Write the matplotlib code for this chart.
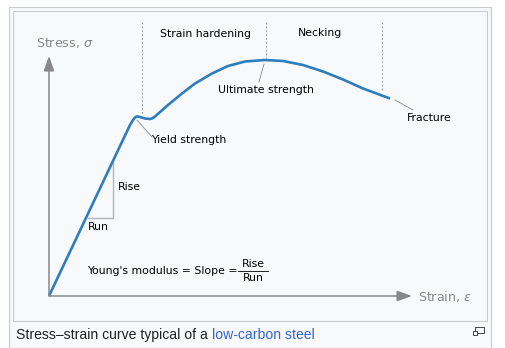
import matplotlib
matplotlib.use('Agg')
import matplotlib.pyplot as plt
from matplotlib.patches import Rectangle

# Stress-strain curve (strain, stress in MPa)
strain = [0.0, 0.081, 0.084, 0.086, 0.0877, 0.089, 0.0927, 0.096, 0.101, 0.103,
          0.106, 0.119, 0.133, 0.146, 0.163, 0.179, 0.196, 0.216, 0.234, 0.254,
          0.274, 0.294, 0.314, 0.341]
stress = [0, 342, 352, 357, 359, 359, 357, 355, 354, 355,
          359, 382, 405, 425, 445, 460, 469, 472, 470, 462,
          449, 433, 415, 395]

# region boundaries (strain) and where the dotted lines stop (stress)
bounds = [0.0927, 0.2167, 0.333]
bound_low = [362, 476, 412]
region_names = ['Strain hardening', 'Necking']

# slope triangle
run_x = [0.039, 0.064]
rise_y = [156, 266]

W, H = 505, 348
BLUE = '#2e7dbf'
GREY = '#888888'


def sx(px):
    return (px - 49) / 1000.0


def sy(py):
    return (296 - py) * 2.0


fig = plt.figure(figsize=(W / 100, H / 100), dpi=100)
fig.patch.set_facecolor('white')

# frames
fig.patches.append(Rectangle((9 / W, 0), 482 / W, 1 - 7 / H, transform=fig.transFigure,
                             facecolor='#f8f9fa', edgecolor='#c8ccd1', lw=0.8, zorder=-2))
fig.patches.append(Rectangle((13 / W, 1 - 321 / H), 474 / W, 310 / H, transform=fig.transFigure,
                             facecolor='#f8f9fa', edgecolor='#c8ccd1', lw=0.8, zorder=-1))

ax = fig.add_axes([0, 0, 1, 1])
ax.set_zorder(1)
ax.set_facecolor('none')
ax.axis('off')
ax.set_xlim(sx(0), sx(W))
ax.set_ylim(sy(H), sy(0))

fs = 7.8

# axes with arrows
ax.annotate('', xy=(sx(412), 0), xytext=(0, 0),
            arrowprops=dict(arrowstyle='-|>,head_length=0.9,head_width=0.32', color=GREY, lw=1.1,
                            shrinkA=0, shrinkB=0))
ax.annotate('', xy=(0, sy(56)), xytext=(0, 0),
            arrowprops=dict(arrowstyle='-|>,head_length=0.9,head_width=0.32', color=GREY, lw=1.1,
                            shrinkA=0, shrinkB=0))
ax.text(sx(35.5), sy(43), r'Stress, $\sigma$', color=GREY, fontsize=9.1, va='center', ha='left')
ax.text(sx(418), sy(297), r'Strain, $\varepsilon$', color=GREY, fontsize=9.1, va='center', ha='left')

# region dividers
for b, lo in zip(bounds, bound_low):
    ax.plot([b, b], [sy(22), lo], color='#a0a0a0', lw=0.7, ls=(0, (2, 2)))
ax.text(sx(206), sy(34), region_names[0], fontsize=fs, ha='center', va='center')
ax.text(sx(320), sy(33), region_names[1], fontsize=fs, ha='center', va='center')

# slope triangle
ax.plot([run_x[0], run_x[1], run_x[1]], [rise_y[0], rise_y[0], rise_y[1]],
        color='#b5b5b5', lw=1.0)
ax.text(sx(118), sy(187), 'Rise', fontsize=fs, ha='left', va='center')
ax.text(sx(88), sy(227), 'Run', fontsize=fs, ha='left', va='center')

# curve
ax.plot(strain, stress, color=BLUE, lw=1.9, solid_capstyle='butt', solid_joinstyle='round')

# leaders and labels
lead = dict(color=GREY, lw=0.6)
ax.plot([sx(137), sx(152)], [sy(120), sy(137)], **lead)
ax.text(sx(151), sy(140), 'Yield strength', fontsize=fs, ha='left', va='center')
ax.plot([sx(264), sx(259)], [sy(64), sy(82)], **lead)
ax.text(sx(265.5), sy(90), 'Ultimate strength', fontsize=fs, ha='center', va='center')
ax.plot([sx(395), sx(413)], [sy(100), sy(110)], **lead)
ax.text(sx(407), sy(118), 'Fracture', fontsize=fs, ha='left', va='center')

# Young's modulus
ax.text(sx(87), sy(271), "Young's modulus = Slope =", fontsize=fs, ha='left', va='center')
ax.text(sx(253), sy(264), 'Rise', fontsize=fs, ha='center', va='center')
ax.text(sx(253), sy(278), 'Run', fontsize=fs, ha='center', va='center')
ax.plot([sx(238), sx(268)], [sy(271), sy(271)], color='black', lw=0.6)

# caption
cap = fig.text(16 / W, 1 - 335 / H, 'Stress\u2013strain curve typical of a ',
               fontsize=10.1, family='Liberation Sans', color='#202122', va='center')
fig.canvas.draw()
bb = cap.get_window_extent()
fig.text(bb.x1 / W, 1 - 335 / H, 'low-carbon steel', fontsize=10.1,
         family='Liberation Sans', color='#3366cc', va='center')

# enlarge icon
fig.patches.append(Rectangle((475 / W, 1 - 333 / H), 9 / W, 6 / H, transform=fig.transFigure,
                             facecolor='none', edgecolor='#444444', lw=0.7, zorder=3))
fig.patches.append(Rectangle((473 / W, 1 - 335 / H), 4 / W, 4 / H, transform=fig.transFigure,
                             facecolor='#f8f9fa', edgecolor='#444444', lw=0.7, zorder=4))

fig.savefig('out.png', dpi=100)
